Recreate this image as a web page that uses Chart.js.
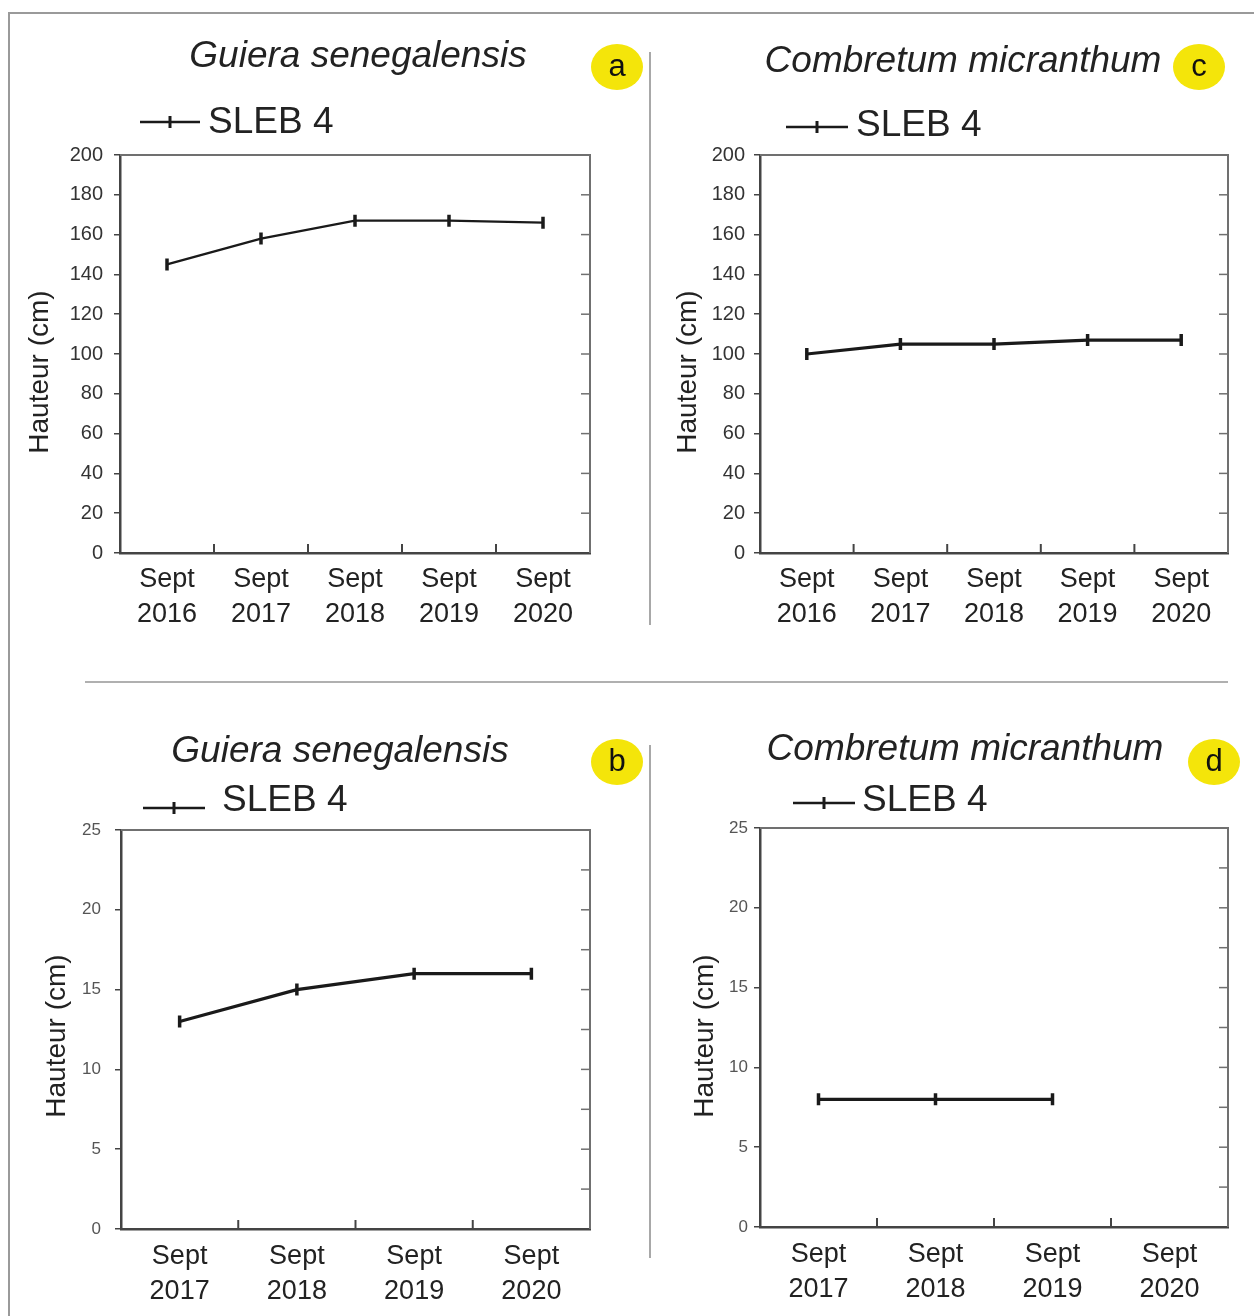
<!DOCTYPE html>
<html>
<head>
<meta charset="utf-8">
<script src="https://cdn.jsdelivr.net/npm/chart.js@4"></script>
<style>
  html, body { margin: 0; padding: 0; background: #fff; }
  body { width: 1254px; height: 1316px; overflow: hidden; position: relative; font-family: 'Liberation Sans', Arial, sans-serif; }
  .frame { position: absolute; left: 8px; top: 12px; width: 1300px; height: 1400px; border: 2px solid #9a9a9a; box-sizing: border-box; }
  .vdiv { position: absolute; width: 2px; background: #a8a8a8; }
  .hdiv { position: absolute; height: 2px; background: #b0b0b0; }
  canvas { position: absolute; }
  .badge { position: absolute; width: 52px; height: 46px; border-radius: 50%; background: #f4e50a;
           font-size: 31px; line-height: 44px; text-align: center; color: #111; }
</style>
</head>
<body>
<div class="frame"></div>
<div class="vdiv" style="left:649px; top:52px; height:573px"></div>
<div class="vdiv" style="left:649px; top:745px; height:513px"></div>
<div class="hdiv" style="left:85px; top:681px; width:1143px"></div>

<canvas id="chartA" width="630" height="640" style="left:10px; top:20px"></canvas>
<canvas id="chartC" width="600" height="640" style="left:650px; top:20px"></canvas>
<canvas id="chartB" width="630" height="626" style="left:10px; top:690px"></canvas>
<canvas id="chartD" width="600" height="626" style="left:650px; top:690px"></canvas>

<div class="badge" style="left:591px; top:44px">a</div>
<div class="badge" style="left:1173px; top:44px">c</div>
<div class="badge" style="left:591px; top:739px">b</div>
<div class="badge" style="left:1188px; top:739px">d</div>

<script>
// données
const yearsTop = ['2016', '2017', '2018', '2019', '2020'];
const yearsBottom = ['2017', '2018', '2019', '2020'];
const guieraHauteurA = [145, 158, 167, 167, 166];
const combretumHauteurC = [100, 105, 105, 107, 107];
const guieraHauteurB = [13, 15, 16, 16];
const combretumHauteurD = [8, 8, 8, null];
const ticksTop = { min: 0, max: 200, step: 20, inner: 20 };
const ticksBottom = { min: 0, max: 25, step: 5, inner: 2.5 };

const FONT = "'Liberation Sans', Arial, sans-serif";

// cadre, petits traits internes, titres et legende
const panelDecor = {
  id: 'panelDecor',
  afterDraw(chart, args, o) {
    const { ctx, chartArea: a, scales } = chart;
    const x = scales.x, y = scales.y;
    ctx.save();
    ctx.strokeStyle = '#707070';
    ctx.lineWidth = 2;
    ctx.beginPath();
    ctx.moveTo(a.left, a.top);
    ctx.lineTo(a.right, a.top);
    ctx.lineTo(a.right, a.bottom);
    ctx.stroke();
    ctx.lineWidth = 1.5;
    for (let v = y.min + o.inner; v < y.max + 0.001; v += o.inner) {
      const py = y.getPixelForValue(v);
      ctx.beginPath(); ctx.moveTo(a.right - 9, py); ctx.lineTo(a.right, py); ctx.stroke();
    }
    ctx.strokeStyle = '#444';
    ctx.lineWidth = 2;
    for (let i = 0; i < x.ticks.length - 1; i++) {
      const px = (x.getPixelForTick(i) + x.getPixelForTick(i + 1)) / 2;
      ctx.beginPath(); ctx.moveTo(px, a.bottom); ctx.lineTo(px, a.bottom - 9); ctx.stroke();
    }
    // titre
    ctx.fillStyle = '#222';
    ctx.font = 'italic 37px ' + FONT;
    ctx.textAlign = 'center';
    ctx.textBaseline = 'middle';
    ctx.fillText(o.title, o.titleX, o.titleY);
    // titre de l'axe y
    ctx.save();
    ctx.translate(o.yTitleX, o.yTitleY);
    ctx.rotate(-Math.PI / 2);
    ctx.font = o.yTitleSize + 'px ' + FONT;
    ctx.fillText('Hauteur (cm)', 0, 0);
    ctx.restore();
    // legende
    ctx.strokeStyle = '#1a1a1a';
    ctx.lineWidth = 2.5;
    ctx.beginPath(); ctx.moveTo(o.legX0, o.legY); ctx.lineTo(o.legX1, o.legY); ctx.stroke();
    const mid = (o.legX0 + o.legX1) / 2;
    ctx.lineWidth = 3;
    ctx.beginPath(); ctx.moveTo(mid, o.legY - 6); ctx.lineTo(mid, o.legY + 6); ctx.stroke();
    ctx.font = '37px ' + FONT;
    ctx.textAlign = 'left';
    ctx.fillText('SLEB 4', o.legTextX, o.legTextY);
    ctx.restore();
  }
};

const makePanel = (id, cfg) => {
  const canvas = document.getElementById(id);
  const yW = 100, xH = 80;
  const area = cfg.area;
  new Chart(canvas, {
    type: 'line',
    data: {
      labels: cfg.years.map(y => ['Sept', y]),
      datasets: [{
        label: 'SLEB 4',
        data: cfg.values,
        borderColor: '#1a1a1a',
        borderWidth: cfg.lineWidth,
        pointStyle: 'line',
        pointRotation: 90,
        pointRadius: 6,
        pointBorderWidth: 3.5,
        pointBorderColor: '#1a1a1a',
        tension: 0,
        spanGaps: false
      }]
    },
    options: {
      responsive: false,
      animation: false,
      layout: {
        padding: {
          left: area.left - yW,
          top: area.top,
          right: canvas.width - area.right,
          bottom: canvas.height - area.bottom - xH
        }
      },
      plugins: {
        legend: { display: false },
        tooltip: { enabled: false },
        panelDecor: cfg.decor
      },
      scales: {
        x: {
          offset: true,
          grid: { display: false },
          border: { display: true, color: '#444', width: 2.5 },
          ticks: { color: '#222', padding: cfg.xPad, font: { family: FONT, size: 27, lineHeight: 1.3 } },
          afterFit: s => { s.height = xH; }
        },
        y: {
          min: cfg.ticks.min,
          max: cfg.ticks.max,
          grid: { drawOnChartArea: false, drawTicks: true, tickLength: 6, color: '#444', lineWidth: 1.5 },
          border: { display: true, color: '#444', width: 2.5 },
          ticks: { stepSize: cfg.ticks.step, color: cfg.yColor, padding: cfg.yPad, font: { family: FONT, size: cfg.ySize } },
          afterFit: s => { s.width = yW; }
        }
      }
    },
    plugins: [panelDecor]
  });
};

makePanel('chartA', {
  years: yearsTop, values: guieraHauteurA, ticks: ticksTop, lineWidth: 2.4,
  area: { left: 110, top: 135, right: 580, bottom: 533 },
  xPad: 0.5, yPad: 11, ySize: 20, yColor: '#333',
  decor: { inner: 20, title: 'Guiera senegalensis', titleX: 348, titleY: 37,
           yTitleX: 30, yTitleY: 352, yTitleSize: 28,
           legX0: 130, legX1: 190, legY: 102, legTextX: 198, legTextY: 103 }
});

makePanel('chartC', {
  years: yearsTop, values: combretumHauteurC, ticks: ticksTop, lineWidth: 3.2,
  area: { left: 110, top: 135, right: 578, bottom: 533 },
  xPad: 0.5, yPad: 9, ySize: 20, yColor: '#333',
  decor: { inner: 20, title: 'Combretum micranthum', titleX: 313, titleY: 42,
           yTitleX: 38, yTitleY: 352, yTitleSize: 28,
           legX0: 136, legX1: 198, legY: 107, legTextX: 206, legTextY: 106 }
});

makePanel('chartB', {
  years: yearsBottom, values: guieraHauteurB, ticks: ticksBottom, lineWidth: 3.2,
  area: { left: 111, top: 140, right: 580, bottom: 539 },
  xPad: 1.5, yPad: 14, ySize: 17, yColor: '#555',
  decor: { inner: 2.5, title: 'Guiera senegalensis', titleX: 330, titleY: 62,
           yTitleX: 47, yTitleY: 346, yTitleSize: 28,
           legX0: 133, legX1: 195, legY: 118, legTextX: 212, legTextY: 111 }
});

makePanel('chartD', {
  years: yearsBottom, values: combretumHauteurD, ticks: ticksBottom, lineWidth: 3.2,
  area: { left: 110, top: 138, right: 578, bottom: 537 },
  xPad: 2, yPad: 6, ySize: 17, yColor: '#555',
  decor: { inner: 2.5, title: 'Combretum micranthum', titleX: 315, titleY: 60,
           yTitleX: 55, yTitleY: 346, yTitleSize: 28,
           legX0: 143, legX1: 205, legY: 113, legTextX: 212, legTextY: 111 }
});
</script>
</body>
</html>
